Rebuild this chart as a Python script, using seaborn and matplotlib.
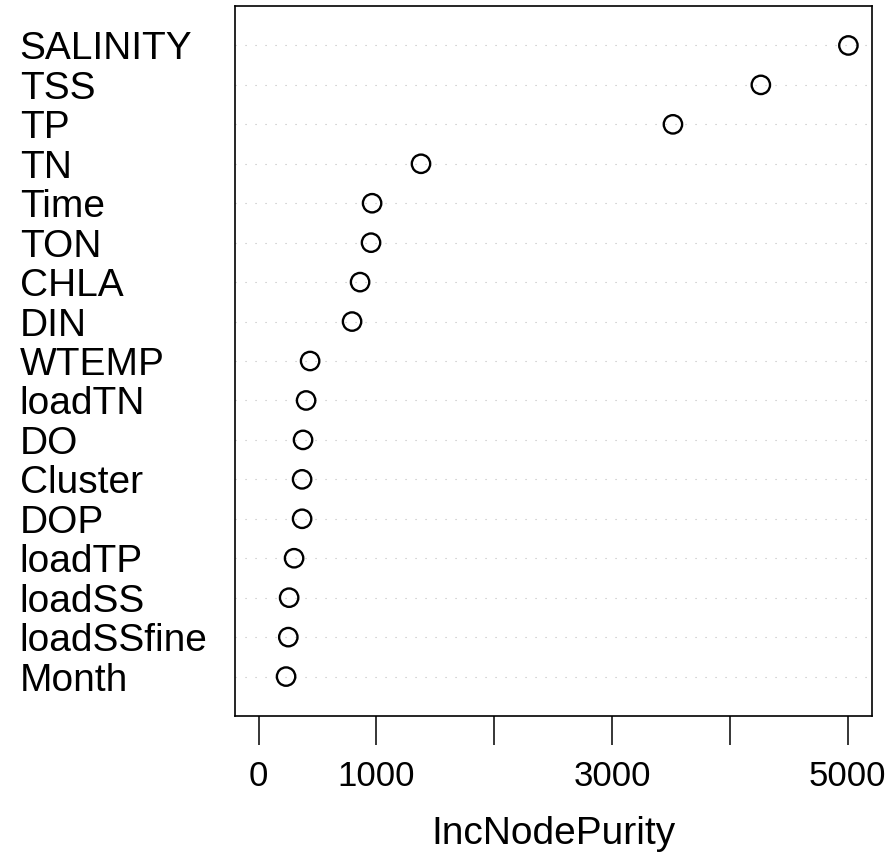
import pandas as pd
import matplotlib.pyplot as plt
import seaborn as sns

# importancia de variables (IncNodePurity), de mayor a menor
variables = ["SALINITY", "TSS", "TP", "TN", "Time", "TON", "CHLA", "DIN",
             "WTEMP", "loadTN", "DO", "Cluster", "DOP", "loadTP", "loadSS",
             "loadSSfine", "Month"]
pureza = [5005, 4262, 3516, 1378, 963, 954, 861, 793,
          437, 403, 377, 369, 369, 301, 259, 252, 233]
ticks_x = [0, 1000, 2000, 3000, 4000, 5000]
etiquetas_x = ["0", "1000", "", "3000", "", "5000"]

df = pd.DataFrame({"variable": variables, "IncNodePurity": pureza})

sns.set_style("white")
plt.rcParams["font.family"] = ["Liberation Sans", "DejaVu Sans"]
plt.rcParams["text.color"] = "black"
plt.rcParams["axes.labelcolor"] = "black"
plt.rcParams["xtick.color"] = "black"
plt.rcParams["ytick.color"] = "black"

fig = plt.figure(figsize=(8.96, 8.57), dpi=100)
ax = fig.add_axes([0.2623, 0.1645, 0.7109, 0.8285])

# lineas punteadas de referencia
for i in range(len(variables)):
    ax.axhline(i, color="#bdbdbd", linewidth=0.8, linestyle=(0, (1, 8)), zorder=1)

sns.scatterplot(data=df, x="IncNodePurity", y="variable", marker="o", s=175,
                facecolor="none", edgecolor="black", linewidth=1.7, ax=ax, zorder=3)

xmax = max(pureza)
ax.set_xlim(-0.04 * xmax, 1.04 * xmax)
ax.set_ylim(len(variables), -1)

ax.set_xticks(ticks_x)
ax.set_xticklabels(etiquetas_x, fontsize=25)
ax.set_yticks(range(len(variables)))
ax.set_yticklabels(variables, fontsize=28, ha="left")
ax.tick_params(axis="y", length=0, pad=155)
ax.tick_params(axis="x", length=21, width=1.1, pad=11, color="black",
               direction="out", bottom=True)
ax.set_xlabel("IncNodePurity", fontsize=28, labelpad=16)
ax.set_ylabel("")

for s in ax.spines.values():
    s.set_color("black")
    s.set_linewidth(1.2)

fig.savefig("out.png", dpi=100)
